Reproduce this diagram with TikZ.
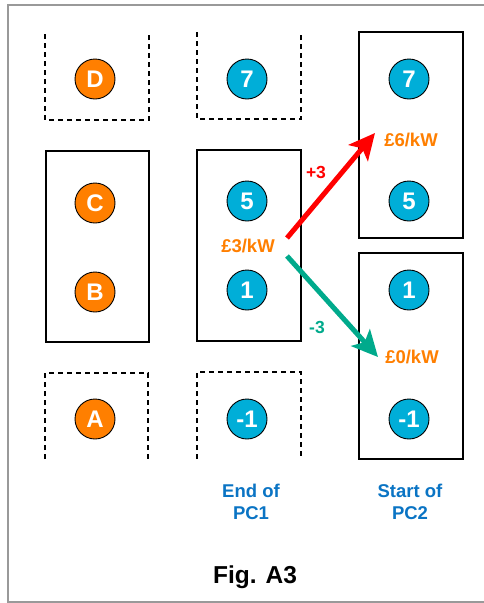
\documentclass[tikz,border=0pt]{standalone}
\usepackage{fontspec}
\setmainfont{Liberation Sans}
\usetikzlibrary{arrows.meta}
\definecolor{orng}{HTML}{FF7F00}
\definecolor{cyanb}{HTML}{00AED8}
\definecolor{lblue}{HTML}{0A74C4}
\definecolor{arred}{HTML}{FF0000}
\definecolor{argreen}{HTML}{00AA8C}
\definecolor{frame}{HTML}{999999}
\begin{document}
\begin{tikzpicture}[x=1pt,y=-1pt,
  disc/.style={circle,draw=black,line width=0.9pt,minimum size=40pt,inner sep=0pt,
    text=white,font=\fontsize{24}{24}\selectfont\bfseries},
  odisc/.style={disc,fill=orng},
  bdisc/.style={disc,fill=cyanb},
  solidbox/.style={draw=black,line width=2pt},
  dashbox/.style={draw=black,line width=2pt,dash pattern=on 5pt off 4pt},
  price/.style={text=orng,font=\fontsize{18.5}{20}\selectfont\bfseries},
  colhead/.style={text=lblue,align=center,font=\fontsize{18.5}{21.5}\selectfont\bfseries},
  bigarrow/.style={line width=5pt,-{Stealth[length=26pt,width=25pt,inset=6pt]}}]
\useasboundingbox (0,0) rectangle (484,603);
\fill[white] (0,0) rectangle (484,603);
\draw[frame,line width=1.5pt] (484,5) -- (8,5) -- (8,602) -- (484,602);

% boxes
\draw[dashbox] (45,34) -- (45,120) -- (149,120) -- (149,34);
\draw[dashbox] (197,32) -- (197,119) -- (301,119) -- (301,32);
\draw[solidbox] (359,32) rectangle (463,238);
\draw[solidbox] (46,151) rectangle (149,342);
\draw[solidbox] (197,150) rectangle (301,341);
\draw[solidbox] (359,253) rectangle (463,459);
\draw[dashbox] (45,459) -- (45,373) -- (148,373) -- (148,459);
\draw[dashbox] (197,459) -- (197,372) -- (301,372) -- (301,459);

% discs
\node[odisc] (d) at (95,79) {D};
\node[odisc] (c) at (95,203) {C};
\node[odisc] (b) at (95,292) {B};
\node[odisc] (a) at (95,419) {A};
\node[bdisc] (e7) at (247,79) {7};
\node[bdisc] (e5) at (247,201) {5};
\node[bdisc] (e1) at (247,290) {1};
\node[bdisc] (em1) at (247,419) {-1};
\node[bdisc] (s7) at (409,79) {7};
\node[bdisc] (s5) at (409,201) {5};
\node[bdisc] (s1) at (409,290) {1};
\node[bdisc] (sm1) at (409,419) {-1};

% prices
\node[price] (p3) at (248,246) {£3/kW};
\node[price] (p6) at (411,140) {£6/kW};
\node[price] (p0) at (412,357) {£0/kW};

% arrows
\coordinate (rs) at (287,238);
\coordinate (re) at (375,133);
\coordinate (gs) at (287,256);
\coordinate (ge) at (378,357);
\draw[bigarrow,arred] (rs) -- (re);
\draw[bigarrow,argreen] (gs) -- (ge);
\node[text=arred,font=\fontsize{17.5}{18}\selectfont\bfseries] (plus) at (316,172) {+3};
\node[text=argreen,font=\fontsize{17.5}{18}\selectfont\bfseries] (minus) at (317,327) {-3};

% column labels
\node[colhead] (end) at (251,502) {End of\\PC1};
\node[colhead] (start) at (410,502) {Start of\\PC2};
\node[font=\fontsize{24.5}{26}\selectfont\bfseries] (fig) at (255,577) {Fig. A3};
\end{tikzpicture}
\end{document}
